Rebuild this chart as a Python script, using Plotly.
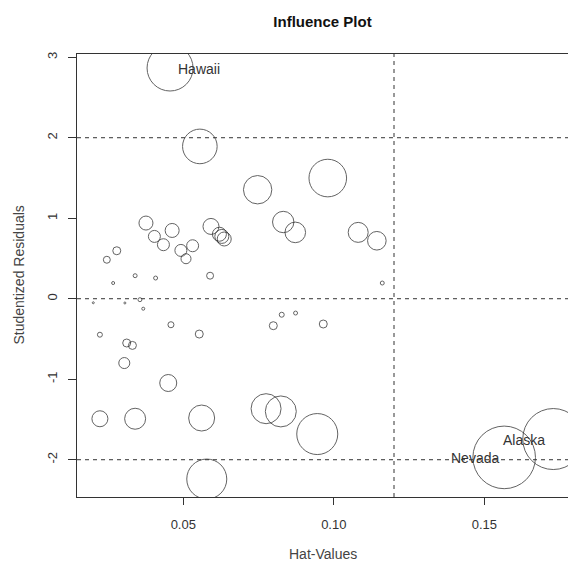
import numpy as np
import plotly.graph_objects as go

# ---- data ----
hat_values = [
    0.0201, 0.0223, 0.0246, 0.0279, 0.0267, 0.0306, 0.0304, 0.0312, 0.0331, 0.0340,
    0.0356, 0.0367, 0.0376, 0.0404, 0.0408, 0.0434, 0.0450, 0.0459, 0.0463, 0.0492,
    0.0509, 0.0531, 0.0553, 0.0589, 0.0592, 0.0628, 0.0636, 0.0620, 0.0223, 0.0340,
    0.0561, 0.0578, 0.0456, 0.0555, 0.0747, 0.0980, 0.0832, 0.0872, 0.1081, 0.1143,
    0.1161, 0.0827, 0.0873, 0.0799, 0.0965, 0.0775, 0.0824, 0.0945, 0.1566, 0.1729,
]
stud_resid = [
    -0.050, -0.447, 0.484, 0.596, 0.195, -0.053, -0.799, -0.550, -0.580, 0.286,
    -0.012, -0.124, 0.940, 0.774, 0.257, 0.671, -1.047, -0.323, 0.848, 0.600,
    0.497, 0.658, -0.439, 0.286, 0.898, 0.774, 0.742, 0.801, -1.491, -1.491,
    -1.482, -2.240, 2.866, 1.892, 1.354, 1.499, 0.953, 0.824, 0.824, 0.720,
    0.195, -0.199, -0.178, -0.335, -0.314, -1.366, -1.400, -1.681, -1.971, -1.743,
]
cooks_d = [
    0.0003, 0.0019, 0.0037, 0.0049, 0.0007, 0.0003, 0.0093, 0.0049, 0.0049, 0.0012,
    0.0012, 0.0007, 0.0150, 0.0110, 0.0012, 0.0110, 0.0221, 0.0028, 0.0150, 0.0110,
    0.0077, 0.0110, 0.0049, 0.0037, 0.0196, 0.0150, 0.0150, 0.0150, 0.0196, 0.0337,
    0.0517, 0.1225, 0.1620, 0.0916, 0.0617, 0.1082, 0.0350, 0.0325, 0.0306, 0.0265,
    0.0012, 0.0019, 0.0012, 0.0049, 0.0049, 0.0689, 0.0735, 0.1287, 0.3000, 0.2849,
]
labelled = {32: "Hawaii", 48: "Nevada", 49: "Alaska"}
resid_refs = [-2, 0, 2]
hat_cutoffs = [0.12, 0.18]
x_ticks = [0.05, 0.10, 0.15]
x_ticktext = ["0.05", "0.10", "0.15"]
y_ticks = [-2, -1, 0, 1, 2, 3]
y_ticktext = ["-2", "-1", "0", "1", "2", "3"]

# ---- styling ----
FONT = "Liberation Sans, Arial, sans-serif"
INK = "#333333"
MAX_DIAM = 62.6
x_range = [0.01469, 0.1778]
y_range = [-2.463, 3.04]

cd = np.array(cooks_d)
sizes = MAX_DIAM * np.sqrt(cd / cd.max())

fig = go.Figure()
fig.add_trace(go.Scatter(
    x=hat_values, y=stud_resid, mode="markers",
    marker=dict(size=sizes, color="rgba(0,0,0,0)",
                line=dict(color="#222222", width=1)),
    cliponaxis=True, hoverinfo="skip", showlegend=False,
))

shapes = []
for r in resid_refs:
    shapes.append(dict(type="line", xref="paper", x0=0, x1=1, yref="y", y0=r, y1=r,
                       line=dict(color=INK, width=1, dash="4px,4px")))
for h in hat_cutoffs:
    if x_range[0] < h < x_range[1]:
        shapes.append(dict(type="line", xref="x", x0=h, x1=h, yref="paper", y0=0, y1=1,
                           line=dict(color=INK, width=1, dash="4px,4px")))

annotations = []
label_offsets = {"Hawaii": ("left", 6), "Nevada": ("right", -3), "Alaska": ("right", -6)}
for i, name in labelled.items():
    anchor, shift = label_offsets[name]
    annotations.append(dict(x=hat_values[i], y=stud_resid[i], xref="x", yref="y",
                            text=name, showarrow=False, xanchor=anchor, yanchor="middle",
                            xshift=shift, yshift=-1,
                            font=dict(family=FONT, size=14, color=INK)))
annotations.append(dict(x=0.5, y=0, xref="paper", yref="paper", text="Hat-Values",
                        showarrow=False, xanchor="center", yanchor="middle", yshift=-57,
                        font=dict(family=FONT, size=14, color="#444444")))
annotations.append(dict(x=0, y=0.5, xref="paper", yref="paper", text="Studentized Residuals",
                        showarrow=False, xanchor="center", yanchor="middle", xshift=-59,
                        textangle=-90, font=dict(family=FONT, size=14, color="#444444")))

fig.update_layout(
    width=568, height=567,
    margin=dict(l=77, r=0, t=54, b=70, pad=0),
    paper_bgcolor="white", plot_bgcolor="white",
    title=dict(text="<b>Influence Plot</b>", x=0.5, xref="paper", xanchor="center",
               y=1 - 22 / 567, yref="container", yanchor="middle",
               font=dict(family=FONT, size=15, color="#111111")),
    shapes=shapes, annotations=annotations,
    xaxis=dict(range=x_range, showgrid=False, zeroline=False, showline=True, mirror=True,
               linecolor=INK, linewidth=1, ticks="outside", ticklen=7, tickcolor=INK,
               tickvals=x_ticks, ticktext=x_ticktext, ticklabelstandoff=8,
               tickfont=dict(family=FONT, size=13, color=INK)),
    yaxis=dict(range=y_range, showgrid=False, zeroline=False, showline=True, mirror=False,
               linecolor=INK, linewidth=1, ticks="outside", ticklen=8, tickcolor=INK,
               tickvals=y_ticks, ticktext=y_ticktext, tickangle=-90, ticklabelstandoff=6,
               tickfont=dict(family=FONT, size=13, color=INK)),
)

fig.write_html(
    "out.html",
    config={"displayModeBar": False},
    post_script="document.body.style.margin='0';document.body.style.overflow='hidden';",
)
